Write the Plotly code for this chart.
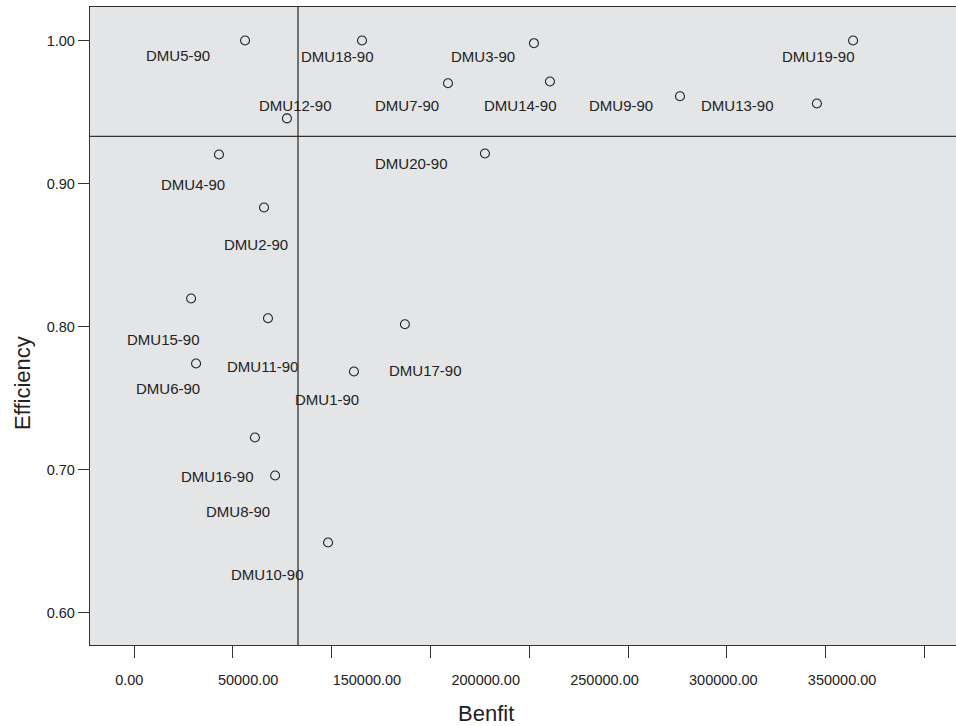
import plotly.graph_objects as go

# ---- data ----
dmu_names = ["DMU1-90", "DMU2-90", "DMU3-90", "DMU4-90", "DMU5-90", "DMU6-90", "DMU7-90",
             "DMU8-90", "DMU9-90", "DMU10-90", "DMU11-90", "DMU12-90", "DMU13-90", "DMU14-90",
             "DMU15-90", "DMU16-90", "DMU17-90", "DMU18-90", "DMU19-90", "DMU20-90"]
benefit = [111300, 65800, 202400, 43000, 56200, 31400, 158900,
           71400, 276300, 98200, 67800, 77400, 345600, 210500,
           28900, 61200, 137100, 115400, 363900, 177600]
efficiency = [0.7685, 0.8832, 0.9981, 0.9203, 1.0000, 0.7741, 0.9701,
              0.6958, 0.9610, 0.6490, 0.8058, 0.9455, 0.9559, 0.9713,
              0.8196, 0.7224, 0.8016, 1.0000, 1.0000, 0.9210]
ref_benefit = 83000
ref_efficiency = 0.933
x_tick_vals = [0, 50000, 100000, 150000, 200000, 250000, 300000, 350000, 400000]
x_tick_labels = ["0.00", "50000.00", "150000.00", "200000.00", "250000.00", "300000.00", "350000.00"]
y_tick_vals = [0.6, 0.7, 0.8, 0.9, 1.0]

# label offsets (pixels, label centre relative to point; +y is down)
label_dx = [-27, -8, -51, -26, -67, -28, -41, -37, -59, -61, -5, 9, -79, -29, -28, -37, 21, -25, -35, -73]
label_dy = [28, 37, 13, 30, 15, 25, 22, 36, 9, 32, 48, -13, 2, 24, 41, 39, 46, 16, 16, 10]

TXT = "#222222"
LINE = "#333333"
FONT = "Liberation Sans, Arial, sans-serif"

fig = go.Figure()
fig.add_trace(go.Scatter(
    x=benefit, y=efficiency, mode="markers",
    marker=dict(symbol="circle-open", size=9, color="#222222", line=dict(width=1.1, color="#222222")),
    hoverinfo="text", text=dmu_names, showlegend=False))

# dummy trace for the label axis
fig.add_trace(go.Scatter(x=[0], y=[0.8], xaxis="x2", mode="markers",
                         marker=dict(opacity=0), showlegend=False, hoverinfo="skip"))

annotations = []
for n, xv, yv, dx, dy in zip(dmu_names, benefit, efficiency, label_dx, label_dy):
    annotations.append(dict(x=xv, y=yv, xref="x", yref="y", text=n, showarrow=False,
                            xanchor="center", yanchor="middle",
                            xshift=dx, yshift=-dy, font=dict(size=15, color=TXT, family=FONT)))
annotations.append(dict(x=-0.0774, y=0.4107, xref="paper", yref="paper", text="Efficiency",
                        xanchor="center", yanchor="middle",
                        textangle=-90, showarrow=False, font=dict(size=22, color=TXT, family=FONT)))
annotations.append(dict(x=0.4573, y=-0.1066, xref="paper", yref="paper", text="Benfit",
                        xanchor="center", yanchor="middle",
                        showarrow=False, font=dict(size=22, color=TXT, family=FONT)))

shapes = [
    dict(type="line", xref="x", yref="paper", x0=ref_benefit, x1=ref_benefit, y0=0, y1=1,
         line=dict(color=LINE, width=1.3)),
    dict(type="line", xref="paper", yref="y", x0=0, x1=1, y0=ref_efficiency, y1=ref_efficiency,
         line=dict(color=LINE, width=1.3)),
]

fig.update_layout(
    width=956, height=726,
    margin=dict(l=90, r=0, t=7, b=81),
    paper_bgcolor="white", plot_bgcolor="#e4e5e7",
    font=dict(family=FONT, color=TXT),
    annotations=annotations, shapes=shapes,
    xaxis=dict(range=[-22267, 415990], tickvals=x_tick_vals, showticklabels=False,
               ticks="outside", ticklen=12, tickwidth=1.2, tickcolor=LINE,
               showline=True, linecolor=LINE, linewidth=1.3, mirror=True,
               showgrid=False, zeroline=False),
    xaxis2=dict(overlaying="x", anchor="y", side="bottom", range=[-0.331, 6.959],
                tickvals=list(range(len(x_tick_labels))), ticktext=x_tick_labels,
                ticks="outside", ticklen=22, tickcolor="rgba(0,0,0,0)",
                tickfont=dict(size=14.5, color=TXT, family=FONT),
                showline=False, showgrid=False, zeroline=False),
    yaxis=dict(range=[0.5773, 1.0234], tickvals=y_tick_vals, tickformat=".2f",
               ticks="outside", ticklen=11, tickwidth=1.2, tickcolor=LINE,
               tickfont=dict(size=14.5, color=TXT, family=FONT),
               showline=True, linecolor=LINE, linewidth=1.3,
               showgrid=False, zeroline=False),
)

fig.write_html("out.html", config={"displayModeBar": False},
               post_script="document.body.style.margin='0';")
